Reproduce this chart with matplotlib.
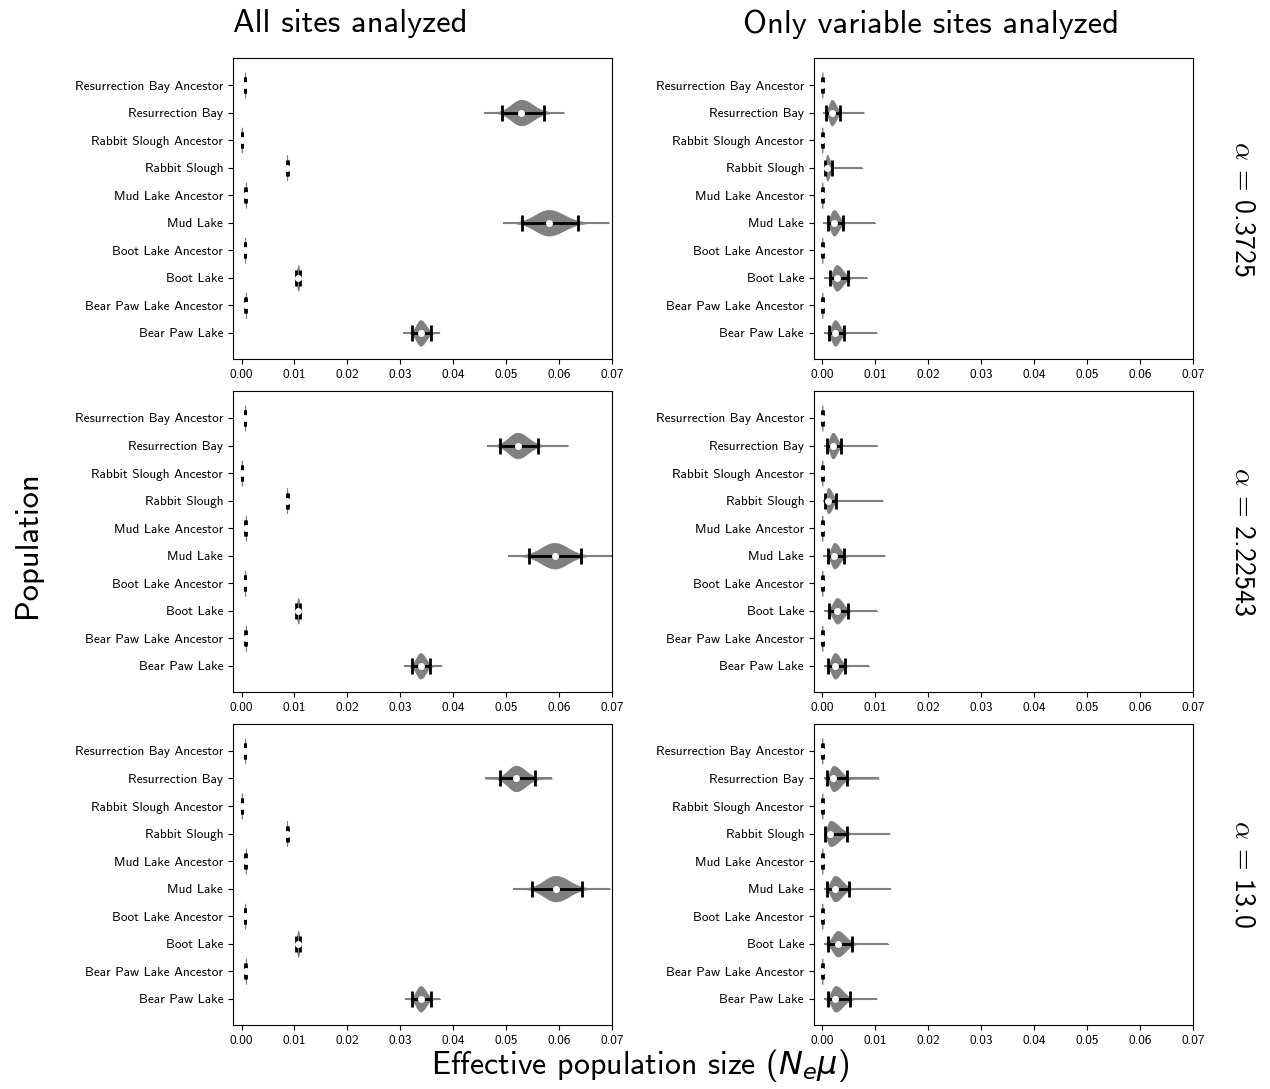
import numpy as np
import matplotlib
matplotlib.use("Agg")
import matplotlib.pyplot as plt

plt.rcParams['font.family'] = ['cmss10', 'DejaVu Sans']
plt.rcParams['axes.unicode_minus'] = False
plt.rcParams['axes.formatter.use_mathtext'] = True

POPULATIONS = [
    "Resurrection Bay Ancestor", "Resurrection Bay",
    "Rabbit Slough Ancestor", "Rabbit Slough",
    "Mud Lake Ancestor", "Mud Lake",
    "Boot Lake Ancestor", "Boot Lake",
    "Bear Paw Lake Ancestor", "Bear Paw Lake",
]
ALPHAS = ["0.3725", "2.22543", "13.0"]
COLUMN_TITLES = ["All sites analyzed", "Only variable sites analyzed"]

# all sites: one list per alpha, populations in the order above
ALL_MEDIAN = [
    [0.0007, 0.0528, 0.00003, 0.0086, 0.0008, 0.0580, 0.0007, 0.0107, 0.0008, 0.0338],
    [0.0007, 0.0521, 0.00003, 0.0086, 0.0008, 0.0591, 0.0007, 0.0107, 0.0008, 0.0338],
    [0.0007, 0.0518, 0.00003, 0.0086, 0.0008, 0.0593, 0.0007, 0.0107, 0.0008, 0.0338],
]
ALL_LOW = [
    [0.00065, 0.0491, 0.0000, 0.0085, 0.00075, 0.0530, 0.00065, 0.0103, 0.00075, 0.0322],
    [0.00065, 0.0488, 0.0000, 0.0085, 0.00075, 0.0542, 0.00065, 0.0103, 0.00075, 0.0322],
    [0.00065, 0.0488, 0.0000, 0.0085, 0.00075, 0.0549, 0.00065, 0.0103, 0.00075, 0.0322],
]
ALL_HIGH = [
    [0.00075, 0.0571, 0.00006, 0.0087, 0.00085, 0.0636, 0.00075, 0.0111, 0.00085, 0.0357],
    [0.00075, 0.0559, 0.00006, 0.0087, 0.00085, 0.0640, 0.00075, 0.0111, 0.00085, 0.0356],
    [0.00075, 0.0554, 0.00006, 0.0087, 0.00085, 0.0642, 0.00075, 0.0111, 0.00085, 0.0357],
]
ALL_MIN = [
    [0.0006, 0.0457, 0.0, 0.0084, 0.0007, 0.0493, 0.0006, 0.0101, 0.0007, 0.0304],
    [0.0006, 0.0463, 0.0, 0.0084, 0.0007, 0.0503, 0.0006, 0.0101, 0.0007, 0.0306],
    [0.0006, 0.0460, 0.0, 0.0084, 0.0007, 0.0512, 0.0006, 0.0101, 0.0007, 0.0308],
]
ALL_MAX = [
    [0.0008, 0.0609, 0.0001, 0.0088, 0.0009, 0.0694, 0.0008, 0.0113, 0.0009, 0.0374],
    [0.0008, 0.0617, 0.0001, 0.0088, 0.0009, 0.0712, 0.0008, 0.0113, 0.0009, 0.0378],
    [0.0008, 0.0586, 0.0001, 0.0088, 0.0009, 0.0696, 0.0008, 0.0113, 0.0009, 0.0375],
]

# variable sites only
VAR_MEDIAN = [
    [0.00003, 0.0018, 0.00003, 0.0009, 0.00003, 0.0022, 0.00003, 0.0027, 0.00003, 0.0024],
    [0.00003, 0.0020, 0.00003, 0.0011, 0.00003, 0.0023, 0.00003, 0.0028, 0.00003, 0.0024],
    [0.00003, 0.0021, 0.00003, 0.0015, 0.00003, 0.0024, 0.00003, 0.0029, 0.00003, 0.0025],
]
VAR_LOW = [
    [0.0, 0.0008, 0.0, 0.0005, 0.0, 0.0010, 0.0, 0.0014, 0.0, 0.0012],
    [0.0, 0.0009, 0.0, 0.0005, 0.0, 0.0011, 0.0, 0.0013, 0.0, 0.0011],
    [0.0, 0.0009, 0.0, 0.0005, 0.0, 0.0009, 0.0, 0.0011, 0.0, 0.0010],
]
VAR_HIGH = [
    [0.00006, 0.0033, 0.00006, 0.0019, 0.00006, 0.0039, 0.00006, 0.0049, 0.00006, 0.0041],
    [0.00006, 0.0035, 0.00006, 0.0026, 0.00006, 0.0042, 0.00006, 0.0049, 0.00006, 0.0043],
    [0.00006, 0.0047, 0.00006, 0.0046, 0.00006, 0.0050, 0.00006, 0.0057, 0.00006, 0.0052],
]
VAR_MIN = [
    [0.0, 0.0002, 0.0, 0.0003, 0.0, 0.0002, 0.0, 0.0003, 0.0, 0.0003],
    [0.0, 0.0004, 0.0, 0.0002, 0.0, 0.0002, 0.0, 0.0003, 0.0, 0.0004],
    [0.0, 0.0004, 0.0, 0.0003, 0.0, 0.0003, 0.0, 0.0004, 0.0, 0.0004],
]
VAR_MAX = [
    [0.0001, 0.0079, 0.0001, 0.0076, 0.0001, 0.0100, 0.0001, 0.0085, 0.0001, 0.0103],
    [0.0001, 0.0104, 0.0001, 0.0114, 0.0001, 0.0118, 0.0001, 0.0104, 0.0001, 0.0089],
    [0.0001, 0.0107, 0.0001, 0.0128, 0.0001, 0.0129, 0.0001, 0.0125, 0.0001, 0.0103],
]

VIOLIN_GRAY = "#808080"
XTICKS = np.arange(0, 0.0701, 0.01)


def violin_shape(lo, med, hi, vmin, vmax):
    # split-normal outline reaching from the minimum to the maximum
    coords = np.linspace(vmin, vmax, 300)
    sd_left = max(med - lo, 1e-6) / 1.96
    sd_right = max(hi - med, 1e-6) / 1.96
    sd = np.where(coords < med, sd_left, sd_right)
    vals = np.exp(-0.5 * ((coords - med) / sd) ** 2)
    return dict(coords=coords, vals=vals, mean=med, median=med, min=vmin, max=vmax)


def draw_panel(ax, med, lo, hi, vmin, vmax):
    n = len(POPULATIONS)
    pos = np.arange(n)[::-1]
    stats = [violin_shape(*v) for v in zip(lo, med, hi, vmin, vmax)]
    parts = ax.violin(stats, positions=pos, orientation='horizontal', widths=0.93,
                      showmeans=False, showextrema=False, showmedians=False)
    for body in parts['bodies']:
        body.set_facecolor(VIOLIN_GRAY)
        body.set_edgecolor(VIOLIN_GRAY)
        body.set_linewidth(0.5)
        body.set_alpha(1.0)
    ax.hlines(pos, vmin, vmax, color=VIOLIN_GRAY, lw=1.5, zorder=2)
    med = np.asarray(med)
    xerr = [med - np.asarray(lo), np.asarray(hi) - med]
    ax.errorbar(med, pos, xerr=xerr, fmt='none', ecolor='black', elinewidth=2,
                capsize=5.5, capthick=2, zorder=3)
    ax.plot(med, pos, 'o', color='white', markersize=5, markeredgewidth=0, zorder=4)
    ax.set_yticks(pos)
    ax.set_yticklabels(POPULATIONS, fontsize=9.6)
    ax.set_xlim(-0.0016, 0.07)
    ax.set_ylim(-0.95, n - 1 + 0.98)
    ax.set_xticks(XTICKS)
    ax.set_xticklabels([f"{t:.2f}" for t in XTICKS], fontsize=9.6)


def main():
    fig, axes = plt.subplots(3, 2, figsize=(12.7, 10.89), dpi=100)
    fig.subplots_adjust(left=0.1835, right=0.9394, top=0.9467, bottom=0.0588,
                        wspace=0.531, hspace=0.106)

    for i in range(3):
        draw_panel(axes[i, 0], ALL_MEDIAN[i], ALL_LOW[i], ALL_HIGH[i], ALL_MIN[i], ALL_MAX[i])
        draw_panel(axes[i, 1], VAR_MEDIAN[i], VAR_LOW[i], VAR_HIGH[i], VAR_MIN[i], VAR_MAX[i])
        box = axes[i, 1].get_position()
        fig.text(0.979, (box.y0 + box.y1) / 2, r"$\alpha$ = " + ALPHAS[i], rotation=-90,
                 ha='center', va='center', fontsize=20, math_fontfamily='cm')

    fig.text(350 / 1270, 0.978, COLUMN_TITLES[0], ha='center', va='center', fontsize=23.4)
    fig.text(931 / 1270, 0.978, COLUMN_TITLES[1], ha='center', va='center', fontsize=23.4)
    fig.text(0.022, 0.5, "Population", rotation=90, ha='center', va='center', fontsize=23.4)
    fig.text(0.504, 0.022, r"Effective population size ($N_e\mu$)", ha='center',
             va='center', fontsize=23, math_fontfamily='dejavusans')

    fig.savefig("out.png", dpi=100)
    plt.close(fig)


if __name__ == "__main__":
    main()
